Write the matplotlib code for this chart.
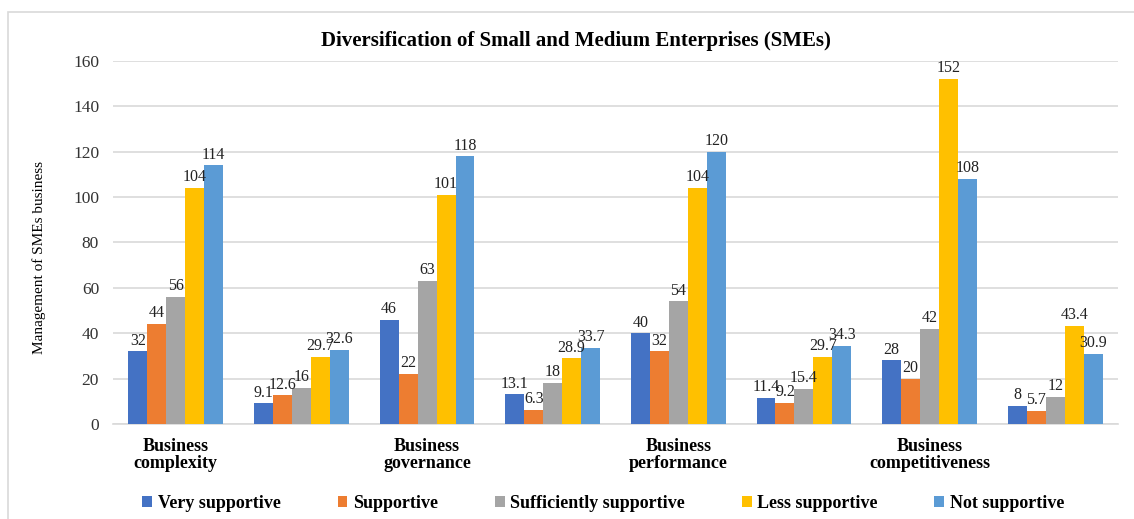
import numpy as np
import matplotlib
matplotlib.use("Agg")
import matplotlib.pyplot as plt
from matplotlib.patches import Rectangle

plt.rcParams['font.family'] = ['Liberation Serif', 'DejaVu Serif']

groups = ["Business\ncomplexity", "", "Business\ngovernance", "",
          "Business\nperformance", "", "Business\ncompetitiveness", ""]
series = ["Very supportive", "Supportive", "Sufficiently supportive",
          "Less supportive", "Not supportive"]
very_supportive = [32, 9.1, 46, 13.1, 40, 11.4, 28, 8]
supportive = [44, 12.6, 22, 6.3, 32, 9.2, 20, 5.7]
sufficiently = [56, 16, 63, 18, 54, 15.4, 42, 12]
less_supportive = [104, 29.7, 101, 28.9, 104, 29.7, 152, 43.4]
not_supportive = [114, 32.6, 118, 33.7, 120, 34.3, 108, 30.9]
colors = ["#4472C4", "#ED7D31", "#A5A5A5", "#FFC000", "#5B9BD5"]

data = [very_supportive, supportive, sufficiently, less_supportive, not_supportive]

W, H = 1134, 519
fig = plt.figure(figsize=(W/100, H/100), dpi=100)
ax = fig.add_axes([113/W, 1-424/H, (1118-113)/W, (424-61)/H])

x = np.arange(len(groups))
w = 0.151
for i, (vals, c, name) in enumerate(zip(data, colors, series)):
    pos = x + (i - 2) * w
    bars = ax.bar(pos, vals, w, color=c, label=name, zorder=3)
    for b, v in zip(bars, vals):
        ax.text(b.get_x() + b.get_width()/2, b.get_height() + 1.2, f"{v:g}",
                ha='center', va='bottom', fontsize=11.5, color='#222222', zorder=4)

ax.set_xlim(-0.5, len(groups) - 0.5)
ax.set_ylim(0, 160)
ax.set_yticks(range(0, 161, 20))
ax.tick_params(axis='y', length=0, labelsize=12.5, colors='#333333', pad=10)
ax.set_xticks(x)
ax.set_xticklabels(groups, fontweight='bold', fontsize=13, linespacing=1.0)
ax.tick_params(axis='x', length=0, pad=10)
ax.yaxis.grid(True, color='#D9D9D9', linewidth=1.2, zorder=0)
for s in ['top', 'right', 'left']:
    ax.spines[s].set_visible(False)
ax.spines['bottom'].set_color('#D9D9D9')
ax.spines['bottom'].set_linewidth(1.2)

ax.set_ylabel("Management of SMEs business", fontsize=11)
ax.yaxis.set_label_coords(-0.0667, 0.46)
fig.text(576/W, 1-41/H, "Diversification of Small and Medium Enterprises (SMEs)",
         ha='center', va='center', fontsize=15, fontweight='bold')

leg = fig.legend(loc='center', bbox_to_anchor=(0.532, 1-503/H), ncol=5,
                 frameon=False, handlelength=0.55, handleheight=0.55,
                 handletextpad=0.3, columnspacing=3.15,
                 prop={'weight': 'bold', 'size': 13})

fig.patches.append(Rectangle((8/W, -0.1), 1.2, 1.1 - 12/H,
                             transform=fig.transFigure, fill=False,
                             edgecolor='#D9D9D9', linewidth=1.2))

fig.savefig("out.png", dpi=100)
